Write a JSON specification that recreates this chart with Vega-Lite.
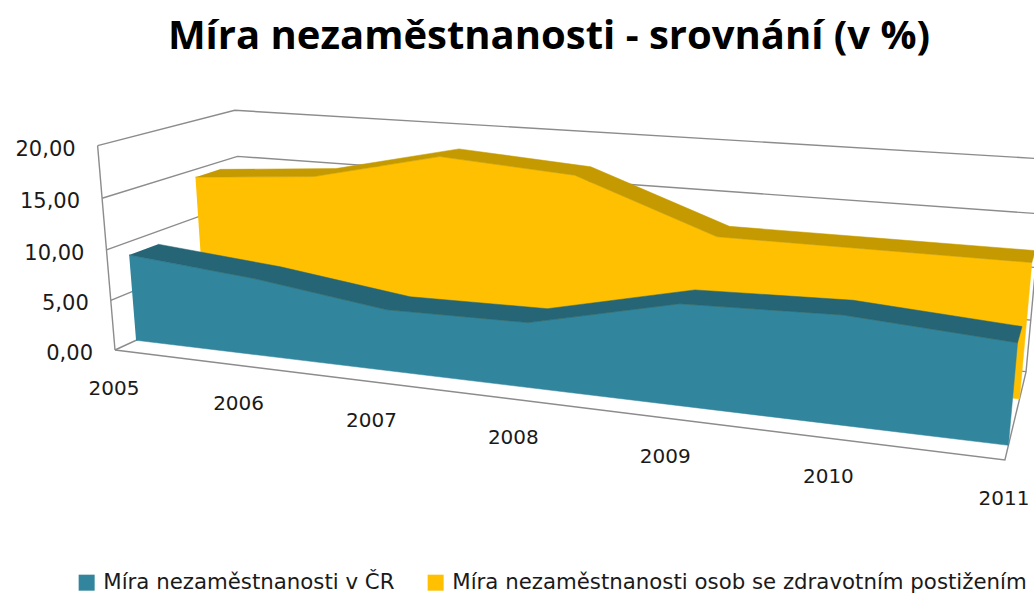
{
"$schema":"https://vega.github.io/schema/vega-lite/v6.json",
"width":1034,"height":597,"padding":0,"autosize":"none",
"background":"white",
"title":{"text":"Míra nezaměstnanosti - srovnání (v %)","font":"Open Sans","fontWeight":"bold","fontSize":40,"color":"#000000","anchor":"middle","offset":-57,"dx":32},
"config":{"view":{"stroke":null}},
"datasets":{
"series":[
{"series":"Míra nezaměstnanosti v ČR","year":2005,"value":8.7},
{"series":"Míra nezaměstnanosti v ČR","year":2006,"value":7.6},
{"series":"Míra nezaměstnanosti v ČR","year":2007,"value":5.9},
{"series":"Míra nezaměstnanosti v ČR","year":2008,"value":6.1},
{"series":"Míra nezaměstnanosti v ČR","year":2009,"value":9.2},
{"series":"Míra nezaměstnanosti v ČR","year":2010,"value":9.6},
{"series":"Míra nezaměstnanosti v ČR","year":2011,"value":8.7},
{"series":"Míra nezaměstnanosti osob se zdravotním postižením","year":2005,"value":14.2},
{"series":"Míra nezaměstnanosti osob se zdravotním postižením","year":2006,"value":15.2},
{"series":"Míra nezaměstnanosti osob se zdravotním postižením","year":2007,"value":18.1},
{"series":"Míra nezaměstnanosti osob se zdravotním postižením","year":2008,"value":17.2},
{"series":"Míra nezaměstnanosti osob se zdravotním postižením","year":2009,"value":12.4},
{"series":"Míra nezaměstnanosti osob se zdravotním postižením","year":2010,"value":12.4},
{"series":"Míra nezaměstnanosti osob se zdravotním postižením","year":2011,"value":12.4}
],
"frame":[
{"edge":"g0","ord":1,"year":2005,"depth":0,"level":0},{"edge":"g0","ord":2,"year":2005,"depth":1,"level":0},{"edge":"g0","ord":3,"year":2011,"depth":1,"level":0},
{"edge":"g5","ord":1,"year":2005,"depth":0,"level":5},{"edge":"g5","ord":2,"year":2005,"depth":1,"level":5},{"edge":"g5","ord":3,"year":2011,"depth":1,"level":5},
{"edge":"g10","ord":1,"year":2005,"depth":0,"level":10},{"edge":"g10","ord":2,"year":2005,"depth":1,"level":10},{"edge":"g10","ord":3,"year":2011,"depth":1,"level":10},
{"edge":"g15","ord":1,"year":2005,"depth":0,"level":15},{"edge":"g15","ord":2,"year":2005,"depth":1,"level":15},{"edge":"g15","ord":3,"year":2011,"depth":1,"level":15},
{"edge":"g20","ord":1,"year":2005,"depth":0,"level":20},{"edge":"g20","ord":2,"year":2005,"depth":1,"level":20},{"edge":"g20","ord":3,"year":2011,"depth":1,"level":20},
{"edge":"axis","ord":1,"year":2005,"depth":0,"level":0},{"edge":"axis","ord":2,"year":2005,"depth":0,"level":20},
{"edge":"floor","ord":1,"year":2005,"depth":0,"level":0},{"edge":"floor","ord":2,"year":2011,"depth":0,"level":0},{"edge":"floor","ord":3,"year":2011,"depth":1,"level":0},{"edge":"floor","ord":4,"year":2011,"depth":1,"level":20}
],
"levels":[{"level":0,"label":"0,00"},{"level":5,"label":"5,00"},{"level":10,"label":"10,00"},{"level":15,"label":"15,00"},{"level":20,"label":"20,00"}],
"years":[{"year":2005},{"year":2006},{"year":2007},{"year":2008},{"year":2009},{"year":2010},{"year":2011}]
},
"layer":[
{"data":{"name":"frame"},
 "transform":[{"calculate":"(datum.year-2005)/6","as":"u"},{"calculate":"datum.depth","as":"d"},{"calculate":"datum.level/20","as":"h"},
 {"calculate":"1-0.186*datum.u+0.145*datum.d-0.038*datum.h","as":"W"},
 {"calculate":"(115+703*datum.u+166*datum.d-21.1*datum.h)/datum.W","as":"sx"},
 {"calculate":"(350+24.4*datum.u-18*datum.d-209.9*datum.h)/datum.W","as":"sy"}],
 "mark":{"type":"line","stroke":"#8c8c8c","strokeWidth":1.4,"clip":true},
 "encoding":{"x":{"field":"sx","type":"quantitative","scale":{"domain":[0,1034]},"axis":null},
 "y":{"field":"sy","type":"quantitative","scale":{"domain":[597,0]},"axis":null},
 "detail":{"field":"edge"},"order":{"field":"ord"}}},
{"data":{"name":"series"},
 "transform":[{"filter":"indexof(datum.series,'osob')>=0"},{"calculate":"[0,1]","as":"c"},{"flatten":["c"]},
 {"calculate":"(datum.year-2005)/6","as":"u"},{"calculate":"0.655","as":"d"},{"calculate":"datum.c==0?datum.value/20:0","as":"h"},
 {"calculate":"datum.c==0?datum.year:6000-datum.year","as":"ord"},
 {"calculate":"1-0.186*datum.u+0.145*datum.d-0.038*datum.h","as":"W"},
 {"calculate":"(115+703*datum.u+166*datum.d-21.1*datum.h)/datum.W","as":"sx"},
 {"calculate":"(350+24.4*datum.u-18*datum.d-209.9*datum.h)/datum.W","as":"sy"}],
 "mark":{"type":"line","fill":"#fec000","stroke":"#fec000","strokeWidth":0.5},
 "encoding":{"x":{"field":"sx","type":"quantitative","scale":{"domain":[0,1034]},"axis":null},
 "y":{"field":"sy","type":"quantitative","scale":{"domain":[597,0]},"axis":null},"order":{"field":"ord"}}},
{"data":{"name":"series"},
 "transform":[{"filter":"indexof(datum.series,'osob')>=0"},{"calculate":"[0,1]","as":"c"},{"flatten":["c"]},
 {"calculate":"(datum.year-2005)/6","as":"u"},{"calculate":"datum.c==0?0.655:0.85","as":"d"},{"calculate":"datum.value/20","as":"h"},
 {"calculate":"datum.c==0?datum.year:6000-datum.year","as":"ord"},
 {"calculate":"1-0.186*datum.u+0.145*datum.d-0.038*datum.h","as":"W"},
 {"calculate":"(115+703*datum.u+166*datum.d-21.1*datum.h)/datum.W","as":"sx"},
 {"calculate":"(350+24.4*datum.u-18*datum.d-209.9*datum.h)/datum.W","as":"sy"}],
 "mark":{"type":"line","fill":"#c49a00","stroke":"#c49a00","strokeWidth":0.5},
 "encoding":{"x":{"field":"sx","type":"quantitative","scale":{"domain":[0,1034]},"axis":null},
 "y":{"field":"sy","type":"quantitative","scale":{"domain":[597,0]},"axis":null},"order":{"field":"ord"}}},
{"data":{"name":"series"},
 "transform":[{"filter":"indexof(datum.series,'osob')<0"},{"calculate":"[0,1]","as":"c"},{"flatten":["c"]},
 {"calculate":"(datum.year-2005)/6","as":"u"},{"calculate":"0.144","as":"d"},{"calculate":"datum.c==0?datum.value/20:0","as":"h"},
 {"calculate":"datum.c==0?datum.year:6000-datum.year","as":"ord"},
 {"calculate":"1-0.186*datum.u+0.145*datum.d-0.038*datum.h","as":"W"},
 {"calculate":"(115+703*datum.u+166*datum.d-21.1*datum.h)/datum.W","as":"sx"},
 {"calculate":"(350+24.4*datum.u-18*datum.d-209.9*datum.h)/datum.W","as":"sy"}],
 "mark":{"type":"line","fill":"#31859c","stroke":"#31859c","strokeWidth":0.5},
 "encoding":{"x":{"field":"sx","type":"quantitative","scale":{"domain":[0,1034]},"axis":null},
 "y":{"field":"sy","type":"quantitative","scale":{"domain":[597,0]},"axis":null},"order":{"field":"ord"}}},
{"data":{"name":"series"},
 "transform":[{"filter":"indexof(datum.series,'osob')<0"},{"calculate":"[0,1]","as":"c"},{"flatten":["c"]},
 {"calculate":"(datum.year-2005)/6","as":"u"},{"calculate":"datum.c==0?0.144:0.347","as":"d"},{"calculate":"datum.value/20","as":"h"},
 {"calculate":"datum.c==0?datum.year:6000-datum.year","as":"ord"},
 {"calculate":"1-0.186*datum.u+0.145*datum.d-0.038*datum.h","as":"W"},
 {"calculate":"(115+703*datum.u+166*datum.d-21.1*datum.h)/datum.W","as":"sx"},
 {"calculate":"(350+24.4*datum.u-18*datum.d-209.9*datum.h)/datum.W","as":"sy"}],
 "mark":{"type":"line","fill":"#266576","stroke":"#266576","strokeWidth":0.5},
 "encoding":{"x":{"field":"sx","type":"quantitative","scale":{"domain":[0,1034]},"axis":null},
 "y":{"field":"sy","type":"quantitative","scale":{"domain":[597,0]},"axis":null},"order":{"field":"ord"}}},
{"data":{"name":"levels"},
 "transform":[{"calculate":"datum.level/20","as":"h"},
 {"calculate":"1-0.038*datum.h","as":"W"},
 {"calculate":"(115-21.1*datum.h)/datum.W","as":"sx"},
 {"calculate":"(350-209.9*datum.h)/datum.W","as":"sy"}],
 "mark":{"type":"text","align":"right","baseline":"middle","dx":-22,"dy":4,"font":"DejaVu Sans","fontSize":21,"fill":"#1a1a1a"},
 "encoding":{"x":{"field":"sx","type":"quantitative","scale":{"domain":[0,1034]},"axis":null},
 "y":{"field":"sy","type":"quantitative","scale":{"domain":[597,0]},"axis":null},"text":{"field":"label"}}},
{"data":{"name":"years"},
 "transform":[{"calculate":"(datum.year-2005)/6","as":"u"},
 {"calculate":"1-0.186*datum.u","as":"W"},
 {"calculate":"(115+703*datum.u)/datum.W","as":"sx"},
 {"calculate":"(350+24.4*datum.u)/datum.W","as":"sy"}],
 "mark":{"type":"text","align":"center","baseline":"middle","dy":39,"dx":-1,"font":"DejaVu Sans","fontSize":20,"fill":"#1a1a1a"},
 "encoding":{"x":{"field":"sx","type":"quantitative","scale":{"domain":[0,1034]},"axis":null},
 "y":{"field":"sy","type":"quantitative","scale":{"domain":[597,0]},"axis":null},"text":{"field":"year","type":"nominal"}}},
{"data":{"name":"series"},
 "mark":{"type":"point","filled":true,"opacity":0,"size":1},
 "encoding":{"fill":{"field":"series","type":"nominal","scale":{"domain":["Míra nezaměstnanosti v ČR","Míra nezaměstnanosti osob se zdravotním postižením"],"range":["#31859c","#fec000"]},
 "legend":{"title":null,"orient":"none","legendX":76,"legendY":572,"direction":"horizontal","columns":2,"symbolType":"square","symbolSize":256,"symbolOpacity":1,"labelFont":"DejaVu Sans","labelFontSize":21.3,"labelColor":"#1a1a1a","labelLimit":700,"columnPadding":30,"labelOffset":6}}}}
]
}
